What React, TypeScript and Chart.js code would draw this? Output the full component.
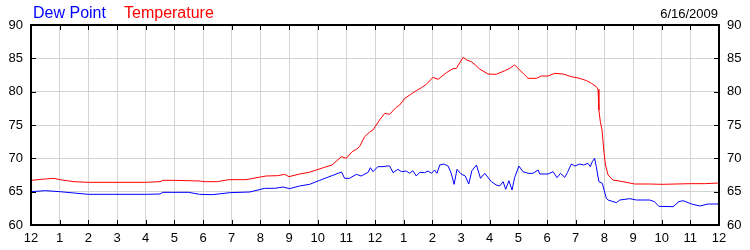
import React, { useEffect, useRef } from "react";
import { Chart, registerables } from "chart.js";

Chart.register(...registerables);

const hourLabels = ["12", "1", "2", "3", "4", "5", "6", "7", "8", "9", "10", "11", "12", "1", "2", "3", "4", "5", "6", "7", "8", "9", "10", "11", "12"];
const yMin = 60;
const yMax = 90;
const yStep = 5;
const dateLabel = "6/16/2009";
const seriesNames = ["Dew Point", "Temperature"];
const seriesColors = ["#0000ff", "#ff0000"];

const tempHours = [0, 0.5, 0.8, 1.0, 1.5, 2.0, 3.0, 4.0, 4.5, 4.6, 5.0, 5.9, 6.0, 6.5, 6.9, 7.5, 8.0, 8.2, 8.6, 8.85, 9.0, 9.37, 9.7, 9.95, 10.2, 10.5, 10.83, 11.0, 11.2, 11.35, 11.46, 11.64, 11.8, 11.93, 12.16, 12.34, 12.51, 12.74, 12.86, 13.04, 13.25, 13.44, 13.62, 13.79, 14.02, 14.2, 14.49, 14.72, 14.84, 14.95, 15.08, 15.2, 15.36, 15.5, 15.65, 15.94, 16.23, 16.53, 16.7, 16.87, 17.05, 17.2, 17.34, 17.63, 17.8, 18.04, 18.27, 18.56, 18.85, 19.14, 19.38, 19.55, 19.72, 19.78, 19.81, 19.86, 19.92, 19.98, 20.04, 20.13, 20.3, 20.65, 21.06, 21.58, 22.0, 22.5, 23.0, 23.5, 24.0];
const tempValues = [66.7, 66.9, 67.0, 66.8, 66.5, 66.4, 66.4, 66.4, 66.5, 66.7, 66.7, 66.6, 66.5, 66.5, 66.8, 66.8, 67.2, 67.35, 67.4, 67.6, 67.25, 67.65, 67.9, 68.25, 68.6, 69.0, 70.25, 70.0, 71.0, 71.35, 71.75, 73.25, 73.9, 74.25, 75.75, 76.75, 76.6, 77.65, 78.0, 79.0, 79.6, 80.15, 80.6, 81.1, 82.15, 81.85, 82.85, 83.45, 83.5, 84.3, 85.15, 84.75, 84.5, 84.0, 83.4, 82.65, 82.6, 83.15, 83.5, 84.0, 83.25, 82.6, 82.0, 82.0, 82.35, 82.35, 82.75, 82.65, 82.25, 82.0, 81.65, 81.25, 80.75, 80.35, 77.25, 75.5, 74.25, 71.25, 69.0, 67.5, 66.75, 66.5, 66.15, 66.15, 66.1, 66.15, 66.2, 66.2, 66.3];

const dewHours = [0, 0.5, 1.0, 1.5, 2.0, 3.0, 4.0, 4.5, 4.6, 5.5, 5.88, 6.34, 6.93, 7.63, 8.15, 8.5, 8.79, 9.02, 9.37, 9.72, 10.07, 10.53, 10.83, 10.94, 11.11, 11.35, 11.52, 11.76, 11.84, 11.93, 12.1, 12.28, 12.42, 12.51, 12.63, 12.8, 12.92, 13.09, 13.21, 13.32, 13.44, 13.56, 13.73, 13.85, 13.97, 14.08, 14.16, 14.26, 14.4, 14.55, 14.66, 14.76, 14.86, 14.98, 15.07, 15.15, 15.27, 15.38, 15.54, 15.68, 15.83, 16.06, 16.23, 16.35, 16.47, 16.56, 16.67, 16.78, 16.87, 17.02, 17.16, 17.34, 17.51, 17.69, 17.75, 18.04, 18.21, 18.35, 18.47, 18.62, 18.71, 18.85, 18.97, 19.14, 19.28, 19.43, 19.51, 19.58, 19.66, 19.72, 19.81, 19.93, 20.07, 20.13, 20.42, 20.54, 20.89, 21.12, 21.58, 21.75, 21.9, 22.4, 22.6, 22.75, 23.04, 23.33, 23.62, 23.97, 24.0];
const dewValues = [65.0, 65.15, 65.0, 64.8, 64.6, 64.6, 64.6, 64.65, 64.9, 64.9, 64.6, 64.55, 64.85, 64.95, 65.5, 65.5, 65.7, 65.45, 65.85, 66.1, 66.7, 67.45, 67.95, 67.0, 67.0, 67.6, 67.35, 67.9, 68.6, 68.0, 68.75, 68.75, 68.85, 68.85, 67.85, 68.35, 68.0, 68.1, 67.75, 68.15, 67.35, 67.9, 67.85, 68.1, 67.75, 68.25, 67.75, 69.0, 69.15, 68.85, 67.75, 66.1, 68.35, 67.75, 67.5, 67.35, 66.15, 68.15, 69.0, 67.0, 67.75, 66.5, 66.0, 65.85, 66.5, 65.35, 66.65, 65.25, 67.1, 68.85, 68.0, 67.75, 67.75, 68.25, 67.65, 67.65, 68.0, 67.1, 67.75, 67.15, 67.85, 69.15, 68.85, 69.15, 69.0, 69.25, 68.75, 69.5, 70.0, 68.75, 66.5, 66.25, 64.0, 63.75, 63.35, 63.75, 63.95, 63.75, 63.75, 63.5, 62.8, 62.75, 63.5, 63.65, 63.15, 62.85, 63.15, 63.15, 62.8];

const FONT = "'Liberation Sans', Arial, sans-serif";

const framePlugin = {
  id: "frame",
  afterDraw(chart: any) {
    const { ctx, chartArea } = chart;
    const { left, right, top, bottom } = chartArea;
    const xs = chart.scales.x;
    const ys = chart.scales.y;
    ctx.save();
    // inner tick marks
    ctx.strokeStyle = "#000";
    ctx.lineWidth = 1;
    ctx.beginPath();
    xs.ticks.forEach((t: any) => {
      const px = Math.round(xs.getPixelForValue(t.value)) + 0.5;
      ctx.moveTo(px, top);
      ctx.lineTo(px, top + 5);
      ctx.moveTo(px, bottom);
      ctx.lineTo(px, bottom - 5);
    });
    ys.ticks.forEach((t: any) => {
      const py = Math.round(ys.getPixelForValue(t.value)) + 0.5;
      ctx.moveTo(left, py);
      ctx.lineTo(left + 5, py);
      ctx.moveTo(right, py);
      ctx.lineTo(right - 5, py);
    });
    ctx.stroke();
    // frame
    ctx.lineWidth = 2;
    ctx.strokeRect(left, top, right - left, bottom - top);
    // legend texts
    ctx.textBaseline = "alphabetic";
    ctx.font = `16px ${FONT}`;
    ctx.textAlign = "left";
    ctx.fillStyle = seriesColors[0];
    ctx.fillText(seriesNames[0], 33, 18);
    ctx.fillStyle = seriesColors[1];
    ctx.fillText(seriesNames[1], 124, 18);
    ctx.font = `13px ${FONT}`;
    ctx.fillStyle = "#000";
    ctx.textAlign = "right";
    ctx.fillText(dateLabel, 718, 18);
    ctx.restore();
  },
};

export default function App() {
  const ref = useRef<HTMLCanvasElement | null>(null);
  useEffect(() => {
    if (!ref.current) return;
    const tickFont = { family: FONT, size: 13 };
    const chart = new Chart(ref.current, {
      type: "line",
      data: {
        datasets: [
          {
            label: seriesNames[0],
            data: dewHours.map((h, i) => ({ x: h, y: dewValues[i] })),
            borderColor: seriesColors[0],
            borderWidth: 1,
            pointRadius: 0,
            tension: 0,
            fill: false,
          },
          {
            label: seriesNames[1],
            data: tempHours.map((h, i) => ({ x: h, y: tempValues[i] })),
            borderColor: seriesColors[1],
            borderWidth: 1,
            pointRadius: 0,
            tension: 0,
            fill: false,
          },
        ],
      },
      options: {
        responsive: false,
        animation: false,
        layout: { padding: { top: 25, left: 0, right: 0, bottom: 0 } },
        plugins: { legend: { display: false }, tooltip: { enabled: false }, title: { display: false } },
        scales: {
          x: {
            type: "linear",
            min: 0,
            max: hourLabels.length - 1,
            ticks: {
              stepSize: 1,
              autoSkip: false,
              maxRotation: 0,
              color: "#000",
              font: tickFont,
              padding: 6,
              callback: (v: any) => hourLabels[v] ?? "",
            },
            grid: { color: "#d3d3d3", drawTicks: false },
            border: { display: false },
            afterFit: (s: any) => {
              s.height = 25;
            },
          },
          y: {
            position: "left",
            min: yMin,
            max: yMax,
            ticks: { stepSize: yStep, color: "#000", font: tickFont, padding: 8 },
            grid: { color: "#d3d3d3", drawTicks: false },
            border: { display: false },
            afterFit: (s: any) => {
              s.width = 31;
            },
          },
          y2: {
            position: "right",
            min: yMin,
            max: yMax,
            ticks: { stepSize: yStep, color: "#000", font: tickFont, padding: 8 },
            grid: { display: false, drawTicks: false },
            border: { display: false },
            afterFit: (s: any) => {
              s.width = 31;
            },
          },
        },
      },
      plugins: [framePlugin],
    });
    return () => chart.destroy();
  }, []);
  return (
    <div style={{ position: "fixed", left: 0, top: 0, width: 750, height: 250, background: "#fff" }}>
      <canvas ref={ref} width={750} height={250} style={{ width: 750, height: 250 }} />
    </div>
  );
}
